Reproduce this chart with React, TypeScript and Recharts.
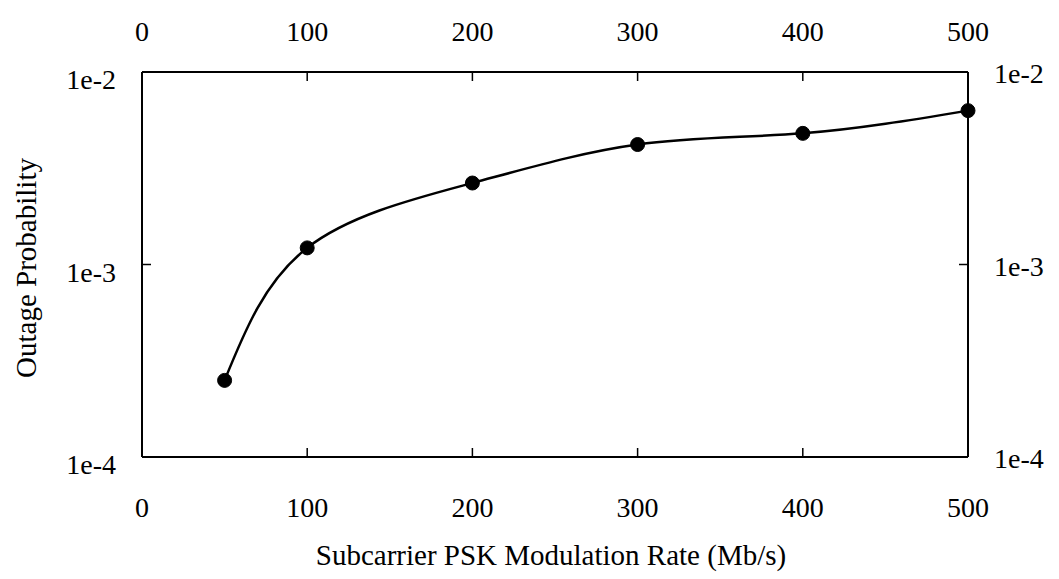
import React from "react";
import { LineChart, Line, XAxis, YAxis } from "recharts";

const rates = [50, 100, 200, 300, 400, 500];
const outage = [2.5e-4, 1.22e-3, 2.65e-3, 4.2e-3, 4.8e-3, 6.3e-3];
const xTicks = [0, 100, 200, 300, 400, 500];
const yTicks = [1e-4, 1e-3, 1e-2];
const yTickLabels = ["1e-4", "1e-3", "1e-2"];

const data = rates.map((r, i) => ({ rate: r, p: outage[i] }));

const FONT = "'Liberation Serif', 'Times New Roman', serif";
const FS = 28;
const TFS = 29;

const labelFor = (v: number) => {
  const i = yTicks.findIndex((t) => Math.abs(Math.log10(t) - Math.log10(v)) < 1e-6);
  return i >= 0 ? yTickLabels[i] : String(v);
};

const BottomTick = (props: any) => {
  const { x, y, payload } = props;
  return (
    <g>
      <line x1={x} y1={y} x2={x} y2={y - 9} stroke="#000" strokeWidth={1.5} />
      <text x={x} y={y + 60} textAnchor="middle" fontFamily={FONT} fontSize={FS} fill="#000">
        {payload.value}
      </text>
    </g>
  );
};

const TopTick = (props: any) => {
  const { x, y, payload } = props;
  return (
    <g>
      <line x1={x} y1={y} x2={x} y2={y + 9} stroke="#000" strokeWidth={1.5} />
      <text x={x} y={y - 31} textAnchor="middle" fontFamily={FONT} fontSize={FS} fill="#000">
        {payload.value}
      </text>
    </g>
  );
};

const LeftTick = (props: any) => {
  const { x, y, payload } = props;
  return (
    <g>
      <line x1={x} y1={y} x2={x + 9} y2={y} stroke="#000" strokeWidth={1.5} />
      <text x={x - 26} y={y + 17} textAnchor="end" fontFamily={FONT} fontSize={FS} fill="#000">
        {labelFor(payload.value)}
      </text>
    </g>
  );
};

const RightTick = (props: any) => {
  const { x, y, payload } = props;
  return (
    <g>
      <line x1={x} y1={y} x2={x - 9} y2={y} stroke="#000" strokeWidth={1.5} />
      <text x={x + 26} y={y + 11} textAnchor="start" fontFamily={FONT} fontSize={FS} fill="#000">
        {labelFor(payload.value)}
      </text>
    </g>
  );
};

export default function App() {
  return (
    <div style={{ position: "absolute", left: 0, top: 0, width: 1059, height: 579, background: "#fff" }}>
      <LineChart
        width={1059}
        height={579}
        data={data}
        margin={{ top: 0, right: 0, bottom: 0, left: 0 }}
      >
        <XAxis
          xAxisId="bottom"
          dataKey="rate"
          type="number"
          domain={[0, 500]}
          ticks={xTicks}
          orientation="bottom"
          height={122}
          tickSize={0}
          tickMargin={0}
          tickLine={false}
          axisLine={{ stroke: "#000", strokeWidth: 2 }}
          tick={<BottomTick />}
          interval={0}
        />
        <XAxis
          xAxisId="top"
          dataKey="rate"
          type="number"
          domain={[0, 500]}
          ticks={xTicks}
          orientation="top"
          height={72}
          tickSize={0}
          tickMargin={0}
          tickLine={false}
          axisLine={{ stroke: "#000", strokeWidth: 2 }}
          tick={<TopTick />}
          interval={0}
        />
        <YAxis
          yAxisId="left"
          dataKey="p"
          scale="log"
          type="number"
          domain={[1e-4, 1e-2]}
          ticks={yTicks}
          orientation="left"
          width={142}
          tickSize={0}
          tickMargin={0}
          tickLine={false}
          axisLine={{ stroke: "#000", strokeWidth: 2 }}
          tick={<LeftTick />}
          interval={0}
          allowDataOverflow
        />
        <YAxis
          yAxisId="right"
          scale="log"
          type="number"
          domain={[1e-4, 1e-2]}
          ticks={yTicks}
          orientation="right"
          width={91}
          tickSize={0}
          tickMargin={0}
          tickLine={false}
          axisLine={{ stroke: "#000", strokeWidth: 2 }}
          tick={<RightTick />}
          interval={0}
          allowDataOverflow
        />
        <Line
          xAxisId="bottom"
          yAxisId="left"
          dataKey="p"
          type="natural"
          stroke="#000"
          strokeWidth={2.5}
          dot={{ r: 7, fill: "#000", stroke: "#000", strokeWidth: 1 }}
          isAnimationActive={false}
        />
        <text
          x={551}
          y={565}
          textAnchor="middle"
          fontFamily={FONT}
          fontSize={TFS}
          fill="#000"
        >
          Subcarrier PSK Modulation Rate (Mb/s)
        </text>
        <text
          x={36}
          y={268}
          textAnchor="middle"
          fontFamily={FONT}
          fontSize={TFS}
          fill="#000"
          transform="rotate(-90 36 268)"
        >
          Outage Probability
        </text>
      </LineChart>
    </div>
  );
}
